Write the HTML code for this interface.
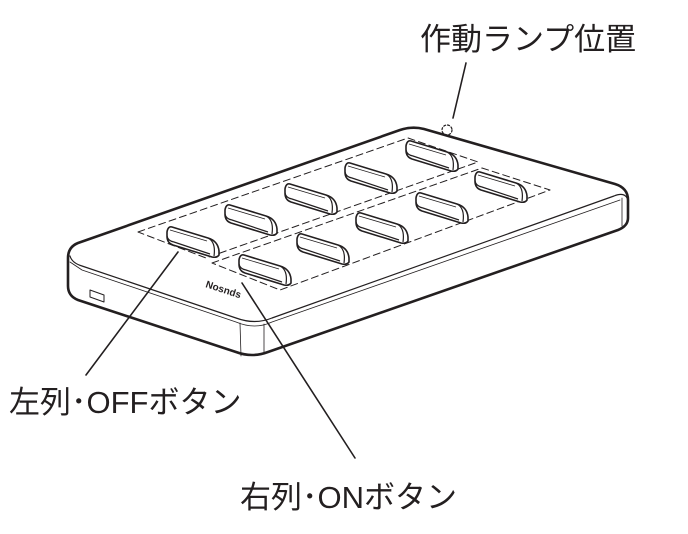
<!DOCTYPE html>
<html><head><meta charset="utf-8"><style>
html,body{margin:0;padding:0;background:#fff;}
svg{display:block}
text{font-family:"Liberation Sans","Noto Sans CJK JP",sans-serif;fill:#231f20}
</style></head><body>
<svg width="688" height="534" viewBox="0 0 688 534" xmlns="http://www.w3.org/2000/svg">
<defs>
<g id="b">
<path d="M4,0 L40,11 Q50,14 51,24 L51,28 Q49,31 44,30 L5,18 Q-1,16 -1,9 L-1,5 Q0,-1 4,0 Z" fill="#fff" stroke="#231f20" stroke-width="1.6" stroke-linejoin="round"/>
<path d="M-1,9 Q0,14 6,15 L42,27 M40,11 Q48,15 46,29" fill="none" stroke="#231f20" stroke-width="1.2"/>
<path d="M2,3 L39,14" fill="none" stroke="#231f20" stroke-width="0.8"/>
</g>
</defs>
<g fill="none" stroke="#231f20" stroke-linejoin="round" stroke-linecap="round">
<path d="M78,243 L400,130 Q412,126 424,129 L615,184 Q628,188 628,200 L628,218 Q628,226 618,230 L268,352 Q252,358 236,352 L78,300 Q68,296 68,286 L68,258 Q68,247 78,243 Z" stroke-width="2.6"/>
<path d="M70,256 Q72,263 82,266 L236,318 Q255,325 272,318 L614,196 Q624,192 627,198" stroke-width="1.2"/>
<path d="M70,262 L82,270 L236,322 Q255,330 272,322 L620,200" stroke-width="0.8"/>
<path d="M240,323 L241,356 M264,324 L264,352 M622,198 L622,226" stroke-width="0.8"/>
<path d="M90,290 L90,297 L104,302 L104,295 Z" stroke-width="1"/>
<path d="M138,232 L408,138 L478,162 L206,258 Z" stroke-width="1" stroke-dasharray="7,4"/>
<path d="M212,263 L482,168 L550,190 L280,290 Z" stroke-width="1" stroke-dasharray="7,4"/>
<circle cx="447" cy="130" r="5" stroke-width="1.2" stroke-dasharray="2,2"/>
<path d="M466,63 L453,118 M178,252 L86,375 M242,283 L355,458" stroke-width="1.6"/>
</g>
<use href="#b" x="407" y="141"/>
<use href="#b" x="346" y="163"/>
<use href="#b" x="286" y="184"/>
<use href="#b" x="226" y="205"/>
<use href="#b" x="168" y="227"/>
<use href="#b" x="476" y="172"/>
<use href="#b" x="417" y="193"/>
<use href="#b" x="357" y="213"/>
<use href="#b" x="298" y="234"/>
<use href="#b" x="240" y="255"/>
<text x="205" y="287" font-size="10" font-weight="bold" transform="rotate(18 205 287)">Nosnds</text>
<text x="420" y="50" font-size="31">作動ランプ位置</text>
<text x="9" y="413" font-size="31">左列･OFFボタン</text>
<text x="240" y="508" font-size="31">右列･ONボタン</text>
</svg>
</body></html>
